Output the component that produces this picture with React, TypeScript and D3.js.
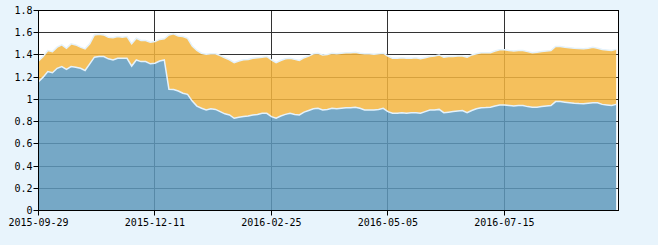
import React, { useEffect } from "react";
import * as d3 from "d3";

const tickLabels = ["2015-09-29", "2015-12-11", "2016-02-25", "2016-05-05", "2016-07-15"];
const tickIndex = [0, 25, 50, 75, 100];
const yTicks = [0, 0.2, 0.4, 0.6, 0.8, 1, 1.2, 1.4, 1.6, 1.8];

// accumulated net value (orange)
const accumValues = [
  1.346, 1.385, 1.44, 1.43, 1.47, 1.49, 1.46, 1.5, 1.49, 1.47,
  1.455, 1.5, 1.58, 1.587, 1.58, 1.56, 1.555, 1.566, 1.56, 1.566,
  1.5, 1.55, 1.53, 1.53, 1.515, 1.52, 1.54, 1.545, 1.58, 1.59,
  1.57, 1.566, 1.55, 1.48, 1.44, 1.416, 1.407, 1.41, 1.41, 1.395,
  1.375, 1.356, 1.33, 1.345, 1.356, 1.36, 1.37, 1.375, 1.38, 1.386,
  1.356, 1.33, 1.35, 1.365, 1.37, 1.36, 1.35, 1.375, 1.39, 1.41,
  1.415, 1.4, 1.405, 1.415, 1.41, 1.416, 1.42, 1.42, 1.425, 1.415,
  1.41, 1.41, 1.407, 1.41, 1.416, 1.39, 1.37, 1.37, 1.375, 1.37,
  1.37, 1.375, 1.365, 1.375, 1.386, 1.39, 1.4, 1.38, 1.385, 1.386,
  1.39, 1.39, 1.38, 1.4, 1.41, 1.42, 1.42, 1.42, 1.435, 1.446,
  1.446, 1.44, 1.435, 1.44, 1.44, 1.43, 1.42, 1.425, 1.43, 1.435,
  1.44, 1.476, 1.476, 1.47, 1.465, 1.46, 1.458, 1.456, 1.46, 1.47,
  1.46, 1.45, 1.445, 1.44, 1.45,
];

// unit net value (blue)
const unitValues = [
  1.16, 1.2, 1.25, 1.24, 1.28, 1.295, 1.27, 1.295, 1.29, 1.28,
  1.26, 1.32, 1.38, 1.386, 1.385, 1.365, 1.355, 1.37, 1.37, 1.37,
  1.3, 1.355, 1.34, 1.34, 1.32, 1.325, 1.345, 1.355, 1.09, 1.088,
  1.075, 1.056, 1.045, 0.985, 0.94, 0.92, 0.905, 0.915, 0.91, 0.89,
  0.87, 0.86, 0.83, 0.84, 0.845, 0.85, 0.86, 0.865, 0.875, 0.875,
  0.845, 0.83, 0.85, 0.865, 0.875, 0.865, 0.86, 0.885, 0.9, 0.915,
  0.92, 0.905, 0.91, 0.92, 0.915, 0.92, 0.925, 0.925, 0.93, 0.92,
  0.905, 0.905, 0.905, 0.91, 0.92, 0.89, 0.875, 0.875, 0.88, 0.875,
  0.88, 0.88, 0.875, 0.89, 0.905, 0.905, 0.91, 0.88, 0.885, 0.89,
  0.895, 0.9, 0.88, 0.9, 0.915, 0.925, 0.926, 0.93, 0.94, 0.95,
  0.95, 0.945, 0.94, 0.945, 0.945, 0.935, 0.93, 0.93, 0.935, 0.94,
  0.945, 0.98, 0.98, 0.975, 0.97, 0.965, 0.962, 0.96, 0.965, 0.97,
  0.97, 0.955, 0.95, 0.945, 0.955,
];

const W = 658;
const H = 245;
const left = 38.5;
const right = 618.5;
const top = 10.5;
const bottom = 210.5;

export default function App() {
  useEffect(() => {
    document.body.style.margin = "0";
  }, []);

  const x = d3.scaleLinear().domain([0, 124.5]).range([left, right]);
  const y = d3.scaleLinear().domain([0, 1.8]).range([bottom, top]);
  const idx = d3.range(unitValues.length);

  const blueArea = d3
    .area<number>()
    .x((i) => x(i))
    .y0(() => y(0))
    .y1((i) => y(unitValues[i]));
  const orangeArea = d3
    .area<number>()
    .x((i) => x(i))
    .y0((i) => y(unitValues[i]))
    .y1((i) => y(accumValues[i]));
  const blueLine = d3.line<number>().x((i) => x(i)).y((i) => y(unitValues[i]));
  const orangeLine = d3.line<number>().x((i) => x(i)).y((i) => y(accumValues[i]));

  const snap = (v: number) => Math.round(v - 0.5) + 0.5;
  const font = "'DejaVu Sans Mono', monospace";

  return (
    <svg width={W} height={H} style={{ display: "block" }}>
      <rect x={0} y={0} width={W} height={H} fill="#e8f4fc" />
      <rect x={left} y={top} width={right - left} height={bottom - top} fill="#ffffff" />
      {/* grid */}
      {yTicks.slice(1, -1).map((t) => (
        <line key={"gy" + t} x1={left} x2={right} y1={snap(y(t))} y2={snap(y(t))} stroke="#333" strokeWidth={1} />
      ))}
      {tickIndex.slice(1).map((t) => (
        <line key={"gx" + t} x1={snap(x(t))} x2={snap(x(t))} y1={top} y2={bottom} stroke="#333" strokeWidth={1} />
      ))}
      <path d={orangeArea(idx) || ""} fill="#f3b53f" fillOpacity={0.85} />
      <path d={blueArea(idx) || ""} fill="#5e99bc" fillOpacity={0.85} />
      <path d={orangeLine(idx) || ""} fill="none" stroke="#e4f2fc" strokeWidth={1.5} />
      <path d={blueLine(idx) || ""} fill="none" stroke="#e4f2fc" strokeWidth={1.5} />
      {/* frame */}
      <rect x={left} y={top} width={right - left} height={bottom - top} fill="none" stroke="#000" strokeWidth={1} />
      {/* y axis ticks */}
      {yTicks.map((t) => (
        <g key={"yt" + t}>
          <line x1={left - 5} x2={left} y1={snap(y(t))} y2={snap(y(t))} stroke="#000" />
          <text x={left - 6} y={y(t) + 3.5} textAnchor="end" fontFamily={font} fontSize={10} fill="#000">
            {String(t).split("").join("")}
          </text>
        </g>
      ))}
      {/* x axis ticks */}
      {tickIndex.map((t, k) => (
        <g key={"xt" + t}>
          <line x1={snap(x(t))} x2={snap(x(t))} y1={bottom} y2={bottom + 5} stroke="#000" />
          <text x={x(t)} y={bottom + 15} textAnchor="middle" fontFamily={font} fontSize={10} fill="#000">
            {tickLabels[k]}
          </text>
        </g>
      ))}
    </svg>
  );
}
